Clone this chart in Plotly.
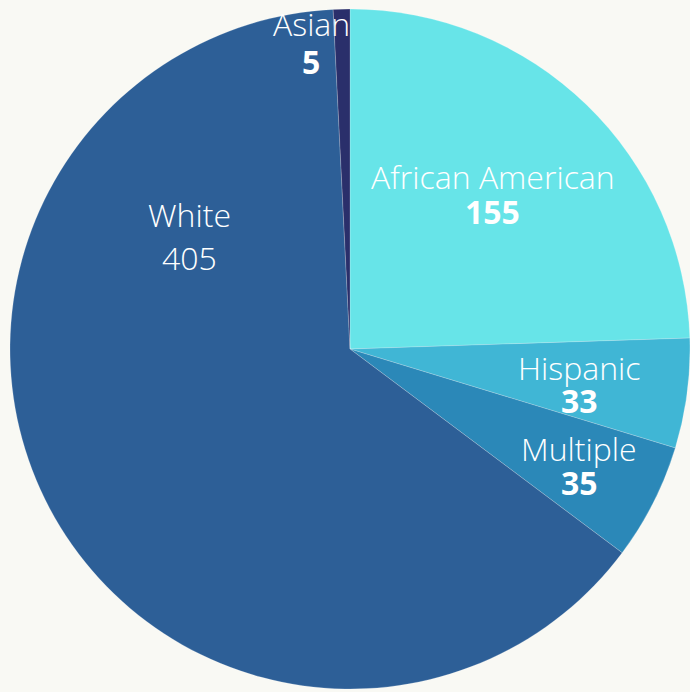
import math
import plotly.graph_objects as go

# Data
categories = ["African American", "Hispanic", "Multiple", "White", "Asian"]
values = [155, 33, 35, 405, 5]

# Styles
colors = ["#67E4E8", "#40B6D5", "#2B88B8", "#2D5F97", "#2A2F6B"]
bold_value = [True, True, True, False, True]
# label placement (angle in degrees clockwise from 12 o'clock, radius fraction)
label_angle = [42.7, 98.7, None, 305.0, 352.8]
label_radius = [0.620, 0.682, 0.756, 0.578, 0.909]
line_gap = [35, 33, 34, 43, 38]

W, H = 690, 692
cx, cy, R = 350, 349, 340

fig = go.Figure(go.Pie(
    labels=categories,
    values=values,
    sort=False,
    direction="clockwise",
    rotation=0,
    marker=dict(colors=colors, line=dict(color="rgba(255,255,255,0.25)", width=0.8)),
    textinfo="none",
    hoverinfo="label+value",
    showlegend=False,
    domain=dict(x=[(cx - R) / W, min(1.0, (cx + R) / W)],
                y=[1 - (cy + R) / H, 1 - (cy - R) / H]),
))

total = sum(values)
cum = 0
annotations = []
for i, (cat, v) in enumerate(zip(categories, values)):
    mid = (cum + v / 2) / total * 360
    cum += v
    ang = label_angle[i] if label_angle[i] is not None else mid
    r = R * label_radius[i]
    px = cx + r * math.sin(math.radians(ang))
    py = cy - r * math.cos(math.radians(ang))
    g = line_gap[i] / 2
    annotations.append(dict(
        x=px / W, y=1 - (py - g) / H, xref="paper", yref="paper",
        text=cat, showarrow=False, xanchor="center", yanchor="middle",
        font=dict(family="Open Sans", size=32, color="white", weight=300),
    ))
    annotations.append(dict(
        x=px / W, y=1 - (py + g) / H, xref="paper", yref="paper",
        text=str(v), showarrow=False, xanchor="center", yanchor="middle",
        font=dict(family="Open Sans", size=32, color="white",
                  weight=700 if bold_value[i] else 300),
    ))

fig.update_layout(
    width=W, height=H,
    margin=dict(l=0, r=0, t=0, b=0),
    paper_bgcolor="#F9F9F4",
    plot_bgcolor="#F9F9F4",
    annotations=annotations,
)

fig.write_html("out.html",
               config={"displayModeBar": False},
               post_script="document.body.style.margin='0';document.body.style.background='#F9F9F4';")
